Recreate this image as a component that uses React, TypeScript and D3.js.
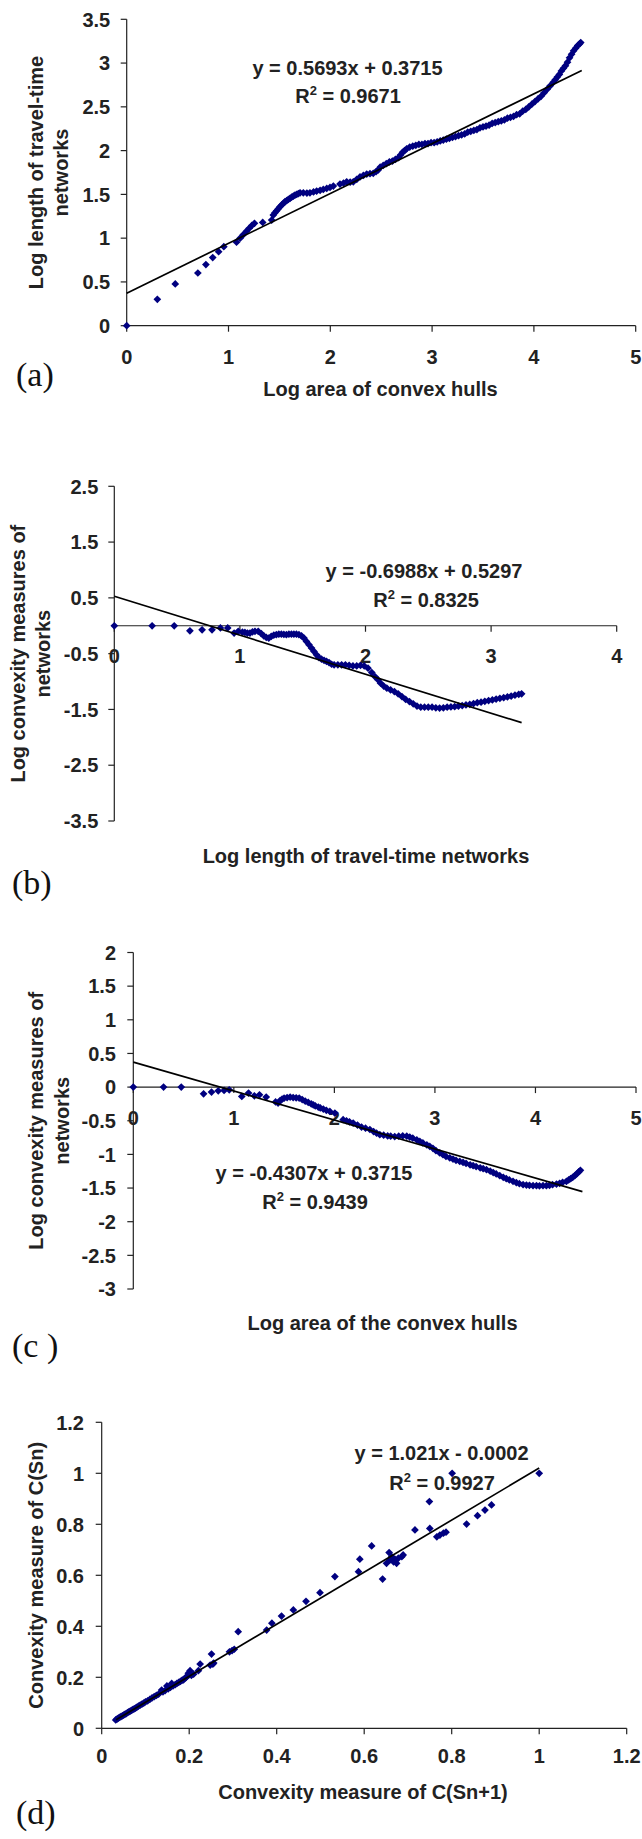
import React, { useEffect, useRef } from 'react';
import * as d3 from 'd3';

type Pt = [number, number];

// (a) log area of convex hulls -> log length of travel-time networks
const aPoints: Pt[] = [
  [0, 0], [0.301, 0.301], [0.477, 0.477], [0.699, 0.602], [0.778, 0.699], [0.845, 0.778],
  [0.903, 0.845], [0.954, 0.903], [1.079, 0.954], [1.114, 1.0], [1.146, 1.041], [1.176, 1.079],
  [1.204, 1.114], [1.23, 1.146], [1.255, 1.17], [1.336, 1.18], [1.424, 1.206],
  [1.44, 1.264], [1.456, 1.29], [1.473, 1.313], [1.49, 1.337], [1.506, 1.359], [1.523, 1.38],
  [1.54, 1.4], [1.555, 1.416], [1.572, 1.43], [1.588, 1.442], [1.604, 1.454], [1.62, 1.468],
  [1.637, 1.48], [1.653, 1.492], [1.67, 1.5], [1.686, 1.51], [1.703, 1.518],
  [1.735, 1.518], [1.77, 1.515], [1.8, 1.518], [1.835, 1.528], [1.866, 1.538], [1.9, 1.547],
  [1.931, 1.557], [1.965, 1.568], [1.997, 1.58], [2.03, 1.595], [2.095, 1.618], [2.13, 1.63],
  [2.161, 1.644], [2.195, 1.64], [2.226, 1.644], [2.26, 1.672], [2.292, 1.7], [2.325, 1.716],
  [2.358, 1.732], [2.39, 1.736], [2.422, 1.74], [2.45, 1.76], [2.472, 1.78],
  [2.49, 1.81], [2.52, 1.83], [2.55, 1.85], [2.58, 1.87], [2.61, 1.88], [2.64, 1.9],
  [2.67, 1.92], [2.69, 1.95], [2.71, 1.98], [2.73, 2.0], [2.75, 2.02], [2.78, 2.04],
  [2.81, 2.05], [2.84, 2.06], [2.87, 2.07], [2.9, 2.07], [2.93, 2.08], [2.96, 2.08],
  [2.99, 2.09], [3.02, 2.09], [3.05, 2.1], [3.08, 2.11], [3.11, 2.12], [3.14, 2.13],
  [3.17, 2.14], [3.2, 2.15], [3.23, 2.16], [3.26, 2.17], [3.29, 2.18], [3.32, 2.19],
  [3.35, 2.21], [3.38, 2.22], [3.41, 2.23], [3.44, 2.24], [3.47, 2.26], [3.5, 2.27],
  [3.53, 2.28], [3.56, 2.29], [3.59, 2.31], [3.62, 2.32], [3.65, 2.33], [3.68, 2.34],
  [3.71, 2.35], [3.74, 2.37], [3.77, 2.38], [3.8, 2.39], [3.83, 2.41], [3.86, 2.42],
  [3.89, 2.45], [3.92, 2.47], [3.95, 2.5], [3.98, 2.53], [4.01, 2.56], [4.04, 2.59],
  [4.07, 2.62], [4.1, 2.66], [4.13, 2.7], [4.16, 2.74], [4.19, 2.78], [4.21, 2.81],
  [4.23, 2.84], [4.25, 2.87], [4.27, 2.91], [4.29, 2.94], [4.31, 2.97], [4.33, 3.01],
  [4.35, 3.06], [4.37, 3.1], [4.39, 3.14], [4.41, 3.17], [4.43, 3.2], [4.45, 3.22], [4.46, 3.235],
];
const aTicksX = [0, 1, 2, 3, 4, 5];
const aTicksY = [0, 0.5, 1, 1.5, 2, 2.5, 3, 3.5];

// (b) log length of travel-time networks -> log convexity measures
const bPoints: Pt[] = [
  [0, 0], [0.301, 0], [0.477, 0], [0.602, -0.09], [0.699, -0.072], [0.778, -0.072],
  [0.845, -0.04], [0.903, -0.04], [0.954, -0.131], [0.987, -0.1], [1.02, -0.115], [1.04, -0.12],
  [1.06, -0.13], [1.08, -0.13], [1.1, -0.11], [1.12, -0.1], [1.146, -0.1], [1.17, -0.14],
  [1.19, -0.18], [1.21, -0.21], [1.23, -0.22], [1.25, -0.19], [1.27, -0.17], [1.29, -0.16],
  [1.31, -0.15], [1.33, -0.15], [1.35, -0.155], [1.37, -0.16], [1.39, -0.15], [1.41, -0.15],
  [1.43, -0.15], [1.45, -0.15], [1.47, -0.16], [1.49, -0.18], [1.51, -0.22], [1.53, -0.28],
  [1.55, -0.34], [1.57, -0.4], [1.59, -0.46], [1.61, -0.52], [1.63, -0.57], [1.65, -0.6],
  [1.67, -0.62], [1.69, -0.64], [1.71, -0.66], [1.73, -0.69], [1.75, -0.7], [1.78, -0.7],
  [1.81, -0.7], [1.84, -0.7], [1.87, -0.71], [1.9, -0.72], [1.93, -0.72], [1.96, -0.71],
  [1.99, -0.72], [2.02, -0.76], [2.05, -0.84], [2.075, -0.91], [2.1, -0.97], [2.12, -1.03],
  [2.145, -1.08], [2.17, -1.12], [2.2, -1.15], [2.23, -1.18], [2.26, -1.22], [2.29, -1.27],
  [2.32, -1.32], [2.35, -1.36], [2.38, -1.4], [2.41, -1.44], [2.44, -1.46], [2.47, -1.46],
  [2.5, -1.46], [2.53, -1.46], [2.56, -1.47], [2.59, -1.475], [2.62, -1.47], [2.65, -1.46],
  [2.68, -1.455], [2.71, -1.45], [2.74, -1.44], [2.77, -1.43], [2.8, -1.42], [2.83, -1.41],
  [2.86, -1.395], [2.89, -1.38], [2.92, -1.37], [2.95, -1.355], [2.98, -1.34], [3.01, -1.33],
  [3.04, -1.315], [3.07, -1.3], [3.1, -1.29], [3.13, -1.275], [3.16, -1.26], [3.19, -1.245],
  [3.22, -1.23], [3.243, -1.22],
];
const bTicksX = [0, 1, 2, 3, 4];
const bTicksY = [-3.5, -2.5, -1.5, -0.5, 0.5, 1.5, 2.5];

// (c) log area of the convex hulls -> log convexity measures
const cPoints: Pt[] = [
  [0, 0], [0.301, 0], [0.477, 0], [0.699, -0.099], [0.778, -0.074], [0.845, -0.055],
  [0.903, -0.05], [0.954, -0.04], [1.079, -0.139], [1.146, -0.089], [1.204, -0.129], [1.255, -0.114],
  [1.322, -0.148], [1.415, -0.22], [1.44, -0.237], [1.46, -0.2], [1.48, -0.18], [1.5, -0.165],
  [1.53, -0.155], [1.56, -0.148], [1.59, -0.155], [1.62, -0.16], [1.65, -0.163], [1.68, -0.185],
  [1.71, -0.21], [1.74, -0.228], [1.77, -0.25], [1.79, -0.263], [1.81, -0.28], [1.84, -0.297],
  [1.86, -0.31], [1.89, -0.326], [1.92, -0.345], [1.955, -0.362], [2.005, -0.386],
  [2.087, -0.485], [2.12, -0.5], [2.15, -0.515], [2.187, -0.534], [2.23, -0.565], [2.27, -0.593],
  [2.31, -0.61], [2.353, -0.63], [2.39, -0.66], [2.42, -0.685], [2.452, -0.708], [2.49, -0.715],
  [2.53, -0.725], [2.56, -0.73], [2.6, -0.735], [2.64, -0.73], [2.68, -0.725], [2.72, -0.73],
  [2.75, -0.742], [2.78, -0.76], [2.82, -0.785], [2.85, -0.807], [2.88, -0.83], [2.92, -0.86],
  [2.949, -0.881], [2.98, -0.91], [3.01, -0.945], [3.048, -0.979], [3.08, -1.005], [3.11, -1.03],
  [3.148, -1.053], [3.18, -1.07], [3.21, -1.087], [3.247, -1.104], [3.28, -1.12], [3.31, -1.135],
  [3.35, -1.155], [3.38, -1.168], [3.41, -1.18], [3.45, -1.2], [3.48, -1.213], [3.513, -1.227],
  [3.55, -1.25], [3.58, -1.27], [3.61, -1.29], [3.645, -1.316], [3.68, -1.34], [3.71, -1.36],
  [3.74, -1.38], [3.777, -1.4], [3.81, -1.42], [3.84, -1.435], [3.877, -1.45], [3.91, -1.455],
  [3.94, -1.46], [3.976, -1.464], [4.01, -1.465], [4.04, -1.466], [4.075, -1.465], [4.109, -1.464],
  [4.14, -1.46], [4.17, -1.45], [4.209, -1.44], [4.24, -1.43], [4.27, -1.415], [4.308, -1.4],
  [4.33, -1.38], [4.35, -1.36], [4.37, -1.34], [4.391, -1.316], [4.41, -1.29], [4.43, -1.26],
  [4.447, -1.237],
];
const cTicksX = [0, 1, 2, 3, 4, 5];
const cTicksY = [-3, -2.5, -2, -1.5, -1, -0.5, 0, 0.5, 1, 1.5, 2];

// (d) convexity measure of C(Sn+1) -> C(Sn)
const dPoints: Pt[] = [
  [0.032, 0.033], [0.035, 0.036], [0.038, 0.04], [0.041, 0.043], [0.044, 0.046], [0.047, 0.049],
  [0.05, 0.052], [0.053, 0.055], [0.056, 0.058], [0.059, 0.061], [0.062, 0.064], [0.065, 0.067],
  [0.068, 0.07], [0.071, 0.073], [0.074, 0.076], [0.077, 0.079], [0.08, 0.082], [0.084, 0.087],
  [0.088, 0.091], [0.092, 0.095], [0.096, 0.099], [0.1, 0.104], [0.105, 0.108], [0.11, 0.113],
  [0.115, 0.119], [0.12, 0.124], [0.125, 0.129], [0.13, 0.134], [0.137, 0.15], [0.14, 0.143],
  [0.145, 0.148], [0.149, 0.166], [0.152, 0.155], [0.157, 0.16], [0.16, 0.176], [0.163, 0.166],
  [0.168, 0.171], [0.172, 0.176], [0.176, 0.18], [0.18, 0.184], [0.184, 0.189], [0.187, 0.19],
  [0.19, 0.196], [0.193, 0.2], [0.196, 0.205], [0.198, 0.216], [0.2, 0.21], [0.202, 0.226],
  [0.205, 0.208], [0.21, 0.212], [0.221, 0.226], [0.225, 0.252], [0.248, 0.248], [0.251, 0.291],
  [0.254, 0.252], [0.256, 0.256], [0.292, 0.3], [0.298, 0.305], [0.303, 0.31], [0.312, 0.379],
  [0.377, 0.385], [0.389, 0.412], [0.411, 0.44], [0.438, 0.464], [0.467, 0.498], [0.499, 0.532],
  [0.533, 0.595], [0.587, 0.614], [0.59, 0.663], [0.617, 0.715], [0.642, 0.585], [0.657, 0.689],
  [0.651, 0.647], [0.659, 0.66], [0.667, 0.653], [0.674, 0.647], [0.678, 0.667], [0.686, 0.673],
  [0.689, 0.68], [0.663, 0.673], [0.67, 0.663], [0.716, 0.778], [0.75, 0.784], [0.749, 0.889],
  [0.766, 0.751], [0.773, 0.758], [0.781, 0.765], [0.787, 0.769], [0.801, 1.0], [0.834, 0.801],
  [0.859, 0.834], [0.876, 0.856], [0.891, 0.876], [1.0, 1.0],
];
const dTicks = [0, 0.2, 0.4, 0.6, 0.8, 1, 1.2];

// fitted trend lines as printed on the chart
const fits = [
  { slope: 0.5693, intercept: 0.3715, from: 0, to: 4.47, eq: 'y = 0.5693x + 0.3715', r2: '0.9671' },
  { slope: -0.6988, intercept: 0.5297, from: 0, to: 3.243, eq: 'y = -0.6988x + 0.5297', r2: '0.8325' },
  { slope: -0.4307, intercept: 0.3715, from: 0, to: 4.467, eq: 'y = -0.4307x + 0.3715', r2: '0.9439' },
  { slope: 1.021, intercept: -0.0002, from: 0.033, to: 1.0, eq: 'y = 1.021x - 0.0002', r2: '0.9927' },
];

const SANS = 'Liberation Sans, Arial, sans-serif';
const SERIF = 'Liberation Serif, Times New Roman, serif';
const FS = 20;
const INK = '#222';
const NAVY = '#000080';

const panels = [
  {
    points: aPoints, ticksX: aTicksX, ticksY: aTicksY, fit: fits[0],
    xDomain: [0, 5], yDomain: [0, 3.5], xRange: [126.7, 635.7], yRange: [325.7, 19.3],
    yLabGap: 16.5, xLabOff: 31, eqPos: [347.5, 68], r2Pos: [348, 96],
    xLabel: 'Log area of convex hulls', xLabelPos: [380.5, 390],
    yLabel: ['Log length of travel-time', 'networks'], yLabelX: [37, 62],
    tag: '(a)', tagPos: [16, 377.5],
  },
  {
    points: bPoints, ticksX: bTicksX, ticksY: bTicksY, fit: fits[1],
    xDomain: [0, 4], yDomain: [-3.5, 2.5], xRange: [114.3, 616.7], yRange: [821, 486.3],
    yLabGap: 16, xLabOff: 30, eqPos: [424, 570.5], r2Pos: [426, 600],
    xLabel: 'Log length of travel-time networks', xLabelPos: [366, 856.7],
    yLabel: ['Log convexity measures of', 'networks'], yLabelX: [18.5, 44],
    tag: '(b)', tagPos: [12, 886],
  },
  {
    points: cPoints, ticksX: cTicksX, ticksY: cTicksY, fit: fits[2],
    xDomain: [0, 5], yDomain: [-3, 2], xRange: [133.3, 636], yRange: [1289, 952.5],
    yLabGap: 17.3, xLabOff: 31, eqPos: [314, 1173], r2Pos: [315, 1201.7],
    xLabel: 'Log area of the convex hulls', xLabelPos: [382.5, 1324],
    yLabel: ['Log convexity measures of', 'networks'], yLabelX: [37, 63],
    tag: '(c )', tagPos: [12, 1349],
  },
  {
    points: dPoints, ticksX: dTicks, ticksY: dTicks, fit: fits[3],
    xDomain: [0, 1.2], yDomain: [0, 1.2], xRange: [101.7, 626.7], yRange: [1728.3, 1422.3],
    yLabGap: 17.7, xLabOff: 27, eqPos: [441.5, 1453], r2Pos: [442, 1482.5],
    xLabel: 'Convexity measure of C(Sn+1)', xLabelPos: [363, 1793],
    yLabel: ['Convexity measure of C(Sn)'], yLabelX: [37],
    tag: '(d)', tagPos: [16, 1816],
  },
];

const drawPanel = (svg: any, p: any) => {
  const x = d3.scaleLinear().domain(p.xDomain).range(p.xRange);
  const y = d3.scaleLinear().domain(p.yDomain).range(p.yRange);
  const g = svg.append('g');
  const ax = x(0);
  const ay = y(0);

  const axes = g.append('g').attr('stroke', INK).attr('stroke-width', 1.2);
  axes.append('line')
    .attr('x1', ax).attr('x2', ax)
    .attr('y1', y(p.yDomain[0])).attr('y2', y(p.yDomain[1]));
  axes.selectAll('line.yt').data(p.ticksY).join('line').attr('class', 'yt')
    .attr('x1', ax - 6).attr('x2', ax)
    .attr('y1', (d: number) => y(d)).attr('y2', (d: number) => y(d));
  axes.append('line')
    .attr('x1', x(p.xDomain[0])).attr('x2', x(p.xDomain[1]))
    .attr('y1', ay).attr('y2', ay);
  axes.selectAll('line.xt').data(p.ticksX).join('line').attr('class', 'xt')
    .attr('x1', (d: number) => x(d)).attr('x2', (d: number) => x(d))
    .attr('y1', ay).attr('y2', ay + 6);

  const labels = g.append('g')
    .attr('font-family', SANS).attr('font-weight', 'bold')
    .attr('font-size', FS).attr('fill', INK);
  labels.selectAll('text.yl').data(p.ticksY).join('text').attr('class', 'yl')
    .attr('x', ax - p.yLabGap).attr('y', (d: number) => y(d) + 0.36 * FS)
    .attr('text-anchor', 'end').text((d: number) => String(d));
  labels.selectAll('text.xl').data(p.ticksX).join('text').attr('class', 'xl')
    .attr('x', (d: number) => x(d)).attr('y', ay + p.xLabOff + 0.36 * FS)
    .attr('text-anchor', 'middle').text((d: number) => String(d));

  // data points as diamonds
  const diamond = d3.symbol().type(d3.symbolSquare).size(30)();
  g.append('g').attr('fill', NAVY)
    .selectAll('path').data(p.points).join('path')
    .attr('d', diamond)
    .attr('transform', (d: Pt) => `translate(${x(d[0])},${y(d[1])}) rotate(45)`);

  // linear trend line
  const f = p.fit;
  const trend = d3.line<number>().x(v => x(v)).y(v => y(f.slope * v + f.intercept));
  g.append('path').datum([f.from, f.to])
    .attr('d', trend).attr('fill', 'none')
    .attr('stroke', '#000').attr('stroke-width', 1.7);

  labels.append('text')
    .attr('x', p.eqPos[0]).attr('y', p.eqPos[1] + 0.36 * FS)
    .attr('text-anchor', 'middle').text(f.eq);
  const r2 = labels.append('text')
    .attr('x', p.r2Pos[0]).attr('y', p.r2Pos[1] + 0.36 * FS)
    .attr('text-anchor', 'middle').style('white-space', 'pre');
  r2.append('tspan').text('R');
  r2.append('tspan').attr('dy', -8).attr('font-size', 13).text('2');
  r2.append('tspan').attr('dy', 8).text(` = ${f.r2}`);

  labels.append('text')
    .attr('x', p.xLabelPos[0]).attr('y', p.xLabelPos[1] + 0.3 * FS)
    .attr('text-anchor', 'middle').text(p.xLabel);
  p.yLabel.forEach((line: string, i: number) => {
    const cy = (p.yRange[0] + p.yRange[1]) / 2;
    labels.append('text')
      .attr('transform', `translate(${p.yLabelX[i] + 0.3 * FS},${cy}) rotate(-90)`)
      .attr('text-anchor', 'middle').text(line);
  });

  g.append('text')
    .attr('x', p.tagPos[0]).attr('y', p.tagPos[1] + 0.24 * 34)
    .attr('font-family', SERIF).attr('font-size', 34).attr('fill', '#111')
    .style('white-space', 'pre')
    .text(p.tag);
};

const App = () => {
  const svgRef = useRef<SVGSVGElement>(null);

  useEffect(() => {
    const svg = d3.select(svgRef.current);
    svg.selectAll('*').remove(); // clear previous render
    panels.forEach(p => drawPanel(svg, p));
  }, []);

  return (
    <svg
      ref={svgRef}
      width={642}
      height={1839}
      style={{ position: 'absolute', left: 0, top: 0, background: '#fff' }}
    />
  );
};

export default App;
